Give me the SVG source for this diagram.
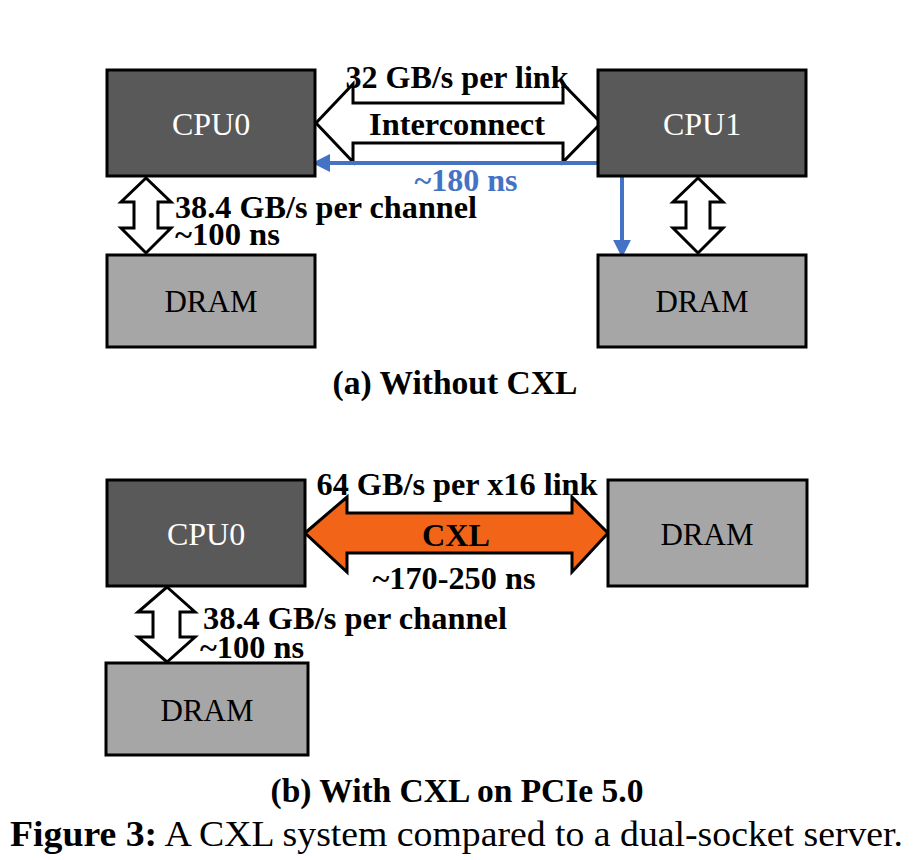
<svg xmlns="http://www.w3.org/2000/svg" width="916" height="860" viewBox="0 0 916 860">
<defs>
<style>
.cpu{fill:#595959;stroke:#000;stroke-width:3}
.dram{fill:#a6a6a6;stroke:#000;stroke-width:3}
.dbl{fill:#fff;stroke:#000;stroke-width:3;stroke-linejoin:miter}
.cxl{fill:#f26518;stroke:#000;stroke-width:3}
.lw{font-family:"Liberation Serif",serif;font-size:32px;fill:#fff;text-anchor:middle}
.lb{font-family:"Liberation Serif",serif;font-size:31px;fill:#000;text-anchor:middle}
.bold{font-family:"Liberation Serif",serif;font-size:31px;font-weight:bold;fill:#000}
.cap{font-family:"Liberation Serif",serif;font-size:33px;font-weight:bold;fill:#000;text-anchor:middle}
.blue{stroke:#4472c4;stroke-width:4;fill:none}
</style>
<marker id="bh" viewBox="0 0 10 10" refX="9" refY="5" markerWidth="4.5" markerHeight="4.5" orient="auto-start-reverse" markerUnits="strokeWidth">
<path d="M0 0 L10 5 L0 10 z" fill="#4472c4"/>
</marker>
</defs>
<rect width="916" height="860" fill="#fff"/>

<g id="connectors">
<polygon class="dbl" points="316,123 353,84 353,103 563,103 563,84 601,123 563,162 563,143 353,143 353,162"/>
<polygon class="dbl" points="146,178 171,202 158,202 158,228 171,228 146,253 121,228 134,228 134,202 121,202"/>
<polygon class="dbl" points="698,178 723,202 710,202 710,228 723,228 698,253 673,228 686,228 686,202 673,202"/>
<polyline class="blue" points="622,256 622,163 314,163" marker-start="url(#bh)" marker-end="url(#bh)"/>
<polygon class="cxl" points="305,533 347,497 347,513 572,513 572,497 608,533 572,572 572,553 347,553 347,572"/>
<polygon class="dbl" points="167,587 195,612 180,612 180,637 195,637 167,662 138,637 153,637 153,612 138,612"/>
</g>

<g id="cpu0a"><rect class="cpu" x="107" y="70" width="208" height="106"/><text class="lw" x="211" y="135">CPU0</text></g>
<g id="cpu1"><rect class="cpu" x="598" y="70" width="208" height="106"/><text class="lw" x="702" y="135">CPU1</text></g>
<g id="drama1"><rect class="dram" x="107" y="255" width="208" height="92"/><text class="lb" x="211" y="312">DRAM</text></g>
<g id="drama2"><rect class="dram" x="598" y="255" width="208" height="92"/><text class="lb" x="702" y="312">DRAM</text></g>

<g id="labels-a">
<text class="bold" x="457" y="88" text-anchor="middle" textLength="223" lengthAdjust="spacingAndGlyphs">32 GB/s per link</text>
<text class="bold" x="457" y="135" text-anchor="middle" textLength="176" lengthAdjust="spacingAndGlyphs">Interconnect</text>
<text class="bold" x="466" y="191" text-anchor="middle" style="fill:#4472c4" textLength="103" lengthAdjust="spacingAndGlyphs">~180 ns</text>
<text class="bold" x="175" y="218" textLength="302" lengthAdjust="spacingAndGlyphs">38.4 GB/s per channel</text>
<text class="bold" x="175" y="245" textLength="105" lengthAdjust="spacingAndGlyphs">~100 ns</text>
<text class="cap" x="455" y="394" textLength="245" lengthAdjust="spacingAndGlyphs">(a) Without CXL</text>
</g>

<g id="cpu0b"><rect class="cpu" x="107" y="480" width="198" height="106"/><text class="lw" x="206" y="545">CPU0</text></g>
<g id="dramcxl"><rect class="dram" x="608" y="480" width="199" height="106"/><text class="lb" x="707" y="545">DRAM</text></g>
<g id="dramb"><rect class="dram" x="106" y="663" width="202" height="92"/><text class="lb" x="207" y="721">DRAM</text></g>

<g id="labels-b">
<text class="bold" x="457" y="495" text-anchor="middle" textLength="281" lengthAdjust="spacingAndGlyphs">64 GB/s per x16 link</text>
<text class="bold" x="456" y="546" text-anchor="middle" textLength="68" lengthAdjust="spacingAndGlyphs">CXL</text>
<text class="bold" x="454" y="589" text-anchor="middle" textLength="163" lengthAdjust="spacingAndGlyphs">~170-250 ns</text>
<text class="bold" x="203" y="629" textLength="304" lengthAdjust="spacingAndGlyphs">38.4 GB/s per channel</text>
<text class="bold" x="200" y="658" textLength="104" lengthAdjust="spacingAndGlyphs">~100 ns</text>
<text class="cap" x="457" y="802" textLength="373" lengthAdjust="spacingAndGlyphs">(b) With CXL on PCIe 5.0</text>
</g>

<text x="10" y="846" font-family="Liberation Serif, serif" font-size="36" fill="#000" textLength="893" lengthAdjust="spacingAndGlyphs"><tspan font-weight="bold">Figure 3:</tspan> A CXL system compared to a dual-socket server.</text>
</svg>
